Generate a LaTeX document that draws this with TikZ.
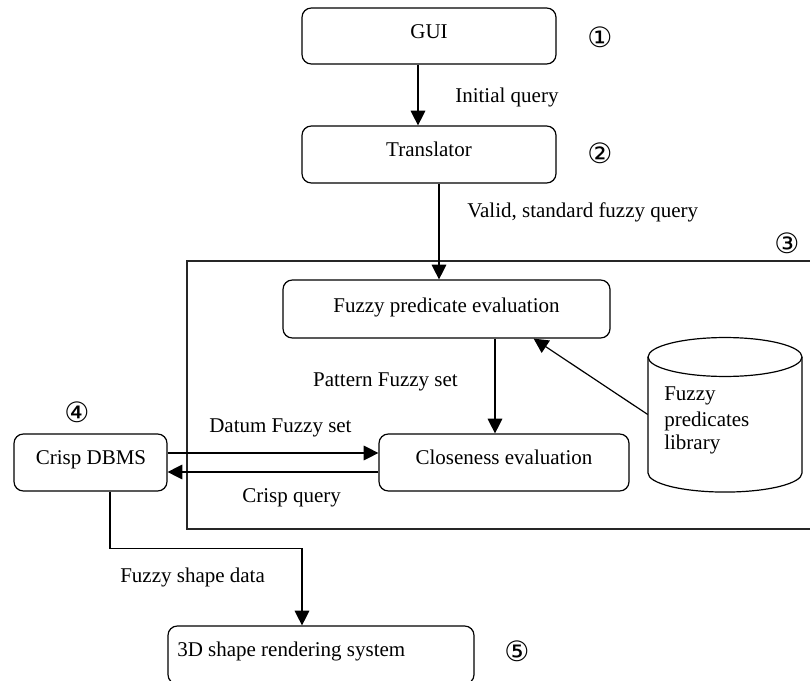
\documentclass[tikz,border=0pt]{standalone}
\usepackage{fontspec}
\setmainfont{Liberation Serif}
\newfontfamily\circfont{DejaVu Sans}
\usetikzlibrary{arrows.meta}
\begin{document}
\begin{tikzpicture}[x=0.75pt,y=-0.75pt,
  box/.style={draw, rounded corners=7pt, line width=0.9pt, inner sep=0pt},
  txt/.style={font=\fontsize{15.75}{19}\selectfont, inner sep=0pt},
  num/.style={font=\circfont\fontsize{21}{24}\selectfont, inner sep=0pt},
  conn/.style={line width=0.9pt, -{Triangle[length=11pt,width=11pt]}},
  plain/.style={line width=0.9pt}]
\useasboundingbox (0,0) rectangle (810,681);

% frame
\coordinate (frtr) at (810,261);
\coordinate (frbl) at (187,529);
\coordinate (frbr) at (810,529);
\draw[plain, black!85] (frtr) -| (frbl) -- (frbr);

% boxes
\node[box, minimum width=190.5pt, minimum height=42pt] (gui) at (429,36) {};
\node[box, minimum width=190.5pt, minimum height=42.75pt] (tr) at (429,154.5) {};
\node[box, minimum width=245.25pt, minimum height=43.5pt] (fp) at (446.5,309) {};
\node[box, minimum width=187.5pt, minimum height=42.75pt] (cl) at (504,462.5) {};
\node[box, minimum width=114.75pt, minimum height=42.75pt] (db) at (90.5,462.5) {};
\node[box, minimum width=229.5pt, minimum height=43.5pt] (rs) at (321,655) {};

% box texts
\node[txt, anchor=base] (guit) at (429,39) {GUI};
\node[txt, anchor=base] (trt) at (429,157) {Translator};
\node[txt, anchor=base] (fpt) at (446.5,312) {Fuzzy predicate evaluation};
\node[txt, anchor=base] (clt) at (504,464) {Closeness evaluation};
\node[txt, anchor=base] (dbt) at (91,464) {Crisp DBMS};
\node[txt, anchor=base west] (rst) at (177,656) {3D shape rendering system};

% cylinder
\node[inner sep=0pt, minimum width=115.5pt, minimum height=116.25pt] (lib) at (725,414.5) {};
\draw[plain] (725,357) ellipse [x radius=57.75pt, y radius=14.6pt];
\draw[plain] (648,357) -- (648,473) arc[start angle=180, end angle=360, x radius=57.75pt, y radius=14.3pt] -- (802,357);
\node[txt, anchor=base west] (lib1) at (664,400) {Fuzzy};
\node[txt, anchor=base west] (lib2) at (664,426) {predicates};
\node[txt, anchor=base west] (lib3) at (664,449) {library};

% circled numbers
\node[num] (n1) at (600,37) {①};
\node[num] (n2) at (600,153) {②};
\node[num] (n3) at (787,243) {③};
\node[num] (n4) at (77,412) {④};
\node[num] (n5) at (517,651) {⑤};

% connectors
\draw[conn] ([xshift=-8.25pt]gui.south) -- ([xshift=-8.25pt]gui.south |- tr.north);
\draw[conn] ([xshift=7.5pt]tr.south) -- ([xshift=7.5pt]tr.south |- fp.north);
\draw[conn] ([xshift=36.375pt]fp.south) -- ([xshift=36.375pt]fp.south |- cl.north);
\draw[conn] (lib.west) -- ([xshift=-57.75pt]fp.south east);
\draw[conn] ([yshift=7.125pt]db.east) -- ([yshift=7.125pt]db.east -| cl.west);
\draw[conn] ([yshift=-7.125pt]cl.west) -- ([yshift=-7.125pt]cl.west -| db.east);
\draw[conn] ([xshift=14.625pt]db.south) -- ++(0,57) -| ([xshift=-14.25pt]rs.north);

% connector labels
\node[txt, anchor=base west] (l1) at (455,103) {Initial query};
\node[txt, anchor=base west] (l2) at (467,218) {Valid, standard fuzzy query};
\node[txt, anchor=base east] (l3) at (458,386) {Pattern Fuzzy set};
\node[txt, anchor=base west] (l4) at (209,432) {Datum Fuzzy set};
\node[txt, anchor=base west] (l5) at (242,502) {Crisp query};
\node[txt, anchor=base west] (l6) at (120,582) {Fuzzy shape data};
\end{tikzpicture}
\end{document}
